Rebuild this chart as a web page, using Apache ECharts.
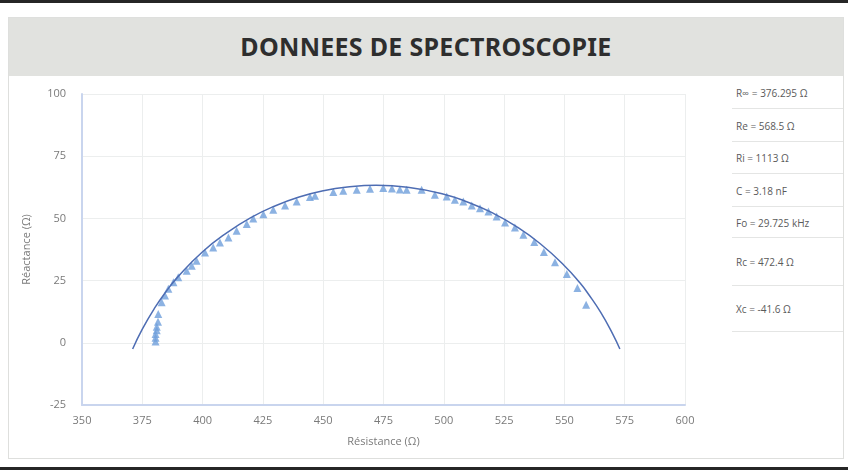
<!DOCTYPE html>
<html>
<head>
<meta charset="utf-8">
<script src="https://cdn.jsdelivr.net/npm/echarts@6/dist/echarts.min.js"></script>
<style>
  html, body { margin: 0; padding: 0; width: 848px; height: 470px; background: #fff; overflow: hidden; }
  .topbar { position: absolute; left: 0; top: 0; width: 848px; height: 3px; background: #262626; }
  .botbar { position: absolute; left: 0; top: 467px; width: 848px; height: 3px; background: #262626; }
  .card { position: absolute; left: 8px; top: 17px; width: 834px; height: 440px; border: 1px solid #dedfdd; background: #fff; }
  .head { height: 58px; background: #e1e2df; text-align: center; line-height: 56px;
          font-family: "Noto Sans", sans-serif; font-weight: 700; font-size: 25px; color: #2e2e2e; letter-spacing: 0.3px; }
  .params { position: absolute; left: 723px; top: 60px; width: 111px; font-family: "Open Sans", sans-serif; font-size: 10px; color: #5a5a5a; }
  .params div { position: absolute; left: 0; width: 111px; border-bottom: 1px solid #e4e5e4; padding-left: 4px; box-sizing: border-box; }
  #chart { position: absolute; left: 0; top: 0; width: 848px; height: 470px; }
</style>
</head>
<body>
<div class="topbar"></div>
<div class="botbar"></div>
<div class="card">
  <div class="head">DONNEES DE SPECTROSCOPIE</div>
  <div class="params" id="params"></div>
</div>
<div id="chart"></div>
<script>
// mesures (triangles) : résistance, réactance
var mesuresR = [380.5, 380.5, 380.5, 381, 381, 381.5, 381.6, 383, 384.4, 385.8, 387.9, 389.9, 393.4, 395.5, 397.5,
  401, 404.4, 407.2, 410.7, 414.1, 418.3, 421, 425.2, 429.3, 434.2, 439, 444.5, 446.6, 454.2, 458.3, 463.9,
  469.4, 474.9, 478.5, 481.8, 484.6, 490.8, 496.3, 501.2, 504.6, 508.1, 511.6, 515, 518.5, 521.9, 525.4, 529.5,
  533, 537.5, 541.5, 546.1, 551, 555.4, 559];
var mesuresX = [0.5, 2, 3.5, 5, 6.5, 8.5, 11.6, 16.3, 19, 21.7, 24.3, 26.3, 29, 31, 33,
  36.3, 38.3, 40.3, 42.3, 45, 47.7, 50, 51.7, 53.5, 55.2, 56.8, 58.6, 59.1, 60.6, 61.1, 61.5,
  61.9, 62.2, 62, 61.6, 61.5, 61.5, 59.5, 58.8, 57.5, 56.8, 55.2, 54.1, 52.8, 50.8, 48.4, 46.3,
  43.4, 40.5, 36.5, 32.4, 27.7, 22, 15.3];

// courbe ajustée
var courbeR = [371, 375, 380, 385, 390, 400, 410, 420, 430, 440, 450, 460, 472, 485, 500, 510, 520, 530, 540, 550, 556.5, 560, 565, 570, 573];
var courbeX = [-2.5, 5.5, 13.8, 20.8, 26.8, 36.6, 44.2, 50.3, 55, 58.6, 61.1, 62.6, 63.3, 62.5, 59.7, 56.5, 52.3, 46.8, 39.8, 31, 24, 19.5, 12.3, 3.6, -2.5];

var params = ['R∞ = 376.295 Ω', 'Re = 568.5 Ω', 'Ri = 1113 Ω', 'C = 3.18 nF', 'Fo = 29.725 kHz', 'Rc = 472.4 Ω', 'Xc = -41.6 Ω'];

var rowTop = [0, 32, 65, 97, 130, 161, 209];
var rowBot = [31, 64, 96, 129, 160, 208, 254];
var box = document.getElementById('params');
params.forEach(function (p, i) {
  var d = document.createElement('div');
  d.textContent = p;
  d.style.top = rowTop[i] + 'px';
  d.style.height = (rowBot[i] - rowTop[i]) + 'px';
  d.style.lineHeight = (rowBot[i] - rowTop[i]) + 'px';
  box.appendChild(d);
});

var chart = echarts.init(document.getElementById('chart'));
var labelFont = { color: '#7a7a7a', fontSize: 11, fontFamily: 'Open Sans' };
var option = {
  animation: false,
  grid: { left: 82, right: 163, top: 94, bottom: 65 },
  xAxis: {
    type: 'value', min: 350, max: 600, interval: 25,
    name: 'Résistance (Ω)', nameLocation: 'middle', nameGap: 31,
    nameTextStyle: labelFont,
    axisLine: { show: true, onZero: false, lineStyle: { color: '#c9d5ee', width: 2 } },
    axisTick: { show: false },
    axisLabel: Object.assign({ margin: 10 }, labelFont),
    splitLine: { show: true, lineStyle: { color: '#eceeee' } }
  },
  yAxis: {
    type: 'value', min: -25, max: 100, interval: 25,
    name: 'Réactance (Ω)', nameLocation: 'middle', nameGap: 50, nameRotate: 90,
    nameTextStyle: labelFont,
    axisLine: { show: true, onZero: false, lineStyle: { color: '#c9d5ee', width: 2 } },
    axisTick: { show: false },
    axisLabel: Object.assign({ margin: 16 }, labelFont),
    splitLine: { show: true, lineStyle: { color: '#eceeee' } }
  },
  series: [
    {
      type: 'scatter',
      symbol: 'triangle',
      symbolSize: 8,
      itemStyle: { color: '#6f9fdb' },
      data: mesuresR.map(function (r, i) { return [r, mesuresX[i]]; }),
      z: 2
    },
    {
      type: 'line',
      smooth: true,
      showSymbol: false,
      lineStyle: { color: '#4e6db3', width: 1.5 },
      data: courbeR.map(function (r, i) { return [r, courbeX[i]]; }),
      z: 3
    }
  ]
};
chart.setOption(option);
</script>
</body>
</html>
